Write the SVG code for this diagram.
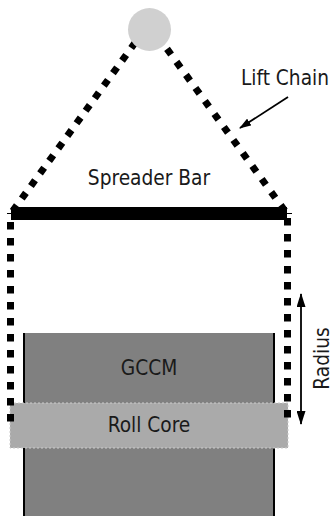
<svg xmlns="http://www.w3.org/2000/svg" width="334" height="516" viewBox="0 0 334 516">
<defs>
<marker id="ah" markerUnits="userSpaceOnUse" markerWidth="14" markerHeight="9" refX="13" refY="4.5" orient="auto-start-reverse" viewBox="0 0 14 9"><path d="M0 0L14 4.5L0 9Z" fill="#000"/></marker>
<marker id="ah2" markerUnits="userSpaceOnUse" markerWidth="12" markerHeight="8" refX="11" refY="4" orient="auto" viewBox="0 0 12 8"><path d="M0 0L12 4L0 8Z" fill="#000"/></marker>
</defs>
<style>
text{font-family:"DejaVu Sans",sans-serif;font-stretch:condensed;font-size:20.7px;fill:#1a1a1a;text-anchor:middle}
.chain{fill:none;stroke:#000;stroke-width:7}
.dim{fill:none;stroke:#000;stroke-width:1.8}
</style>
<g id="gccm">
<rect x="24" y="333" width="250" height="183" fill="#808080"/>
<path d="M24 333V516M274 333V516" stroke="#000" stroke-width="2" fill="none"/>
<text x="149" y="375">GCCM</text>
</g>
<g id="roll-core">
<rect x="10" y="403" width="278" height="45" fill="#aaa" stroke="#ccc" stroke-width="1" stroke-dasharray="2 2"/>
<text x="149" y="432">Roll Core</text>
</g>
<g id="connectors">
<path class="chain" d="M135.3 42.4L12 212" stroke-dasharray="7 8.5"/>
<path class="chain" d="M167 48.9L285 211" stroke-dasharray="7 9.1"/>
<path class="chain" d="M10.5 222V422" stroke-dasharray="7.5 8.5"/>
<path class="chain" d="M287.5 218V418" stroke-dasharray="7.5 8.5"/>
<path class="dim" d="M288 97L240 128" marker-end="url(#ah2)"/>
<path class="dim" d="M301 294V424" marker-start="url(#ah)" marker-end="url(#ah)"/>
</g>
<g id="hook"><circle cx="149.5" cy="29.5" r="21.5" fill="#d0d0d0"/></g>
<g id="spreader-bar">
<path d="M7 213.5H292" stroke="#000" stroke-width="1"/>
<rect x="11" y="207" width="276" height="13" fill="#000"/>
<text x="149" y="185">Spreader Bar</text>
</g>
<g id="labels">
<text x="285" y="85">Lift Chain</text>
<text transform="translate(329 358.5) rotate(-90)">Radius</text>
</g>
</svg>
